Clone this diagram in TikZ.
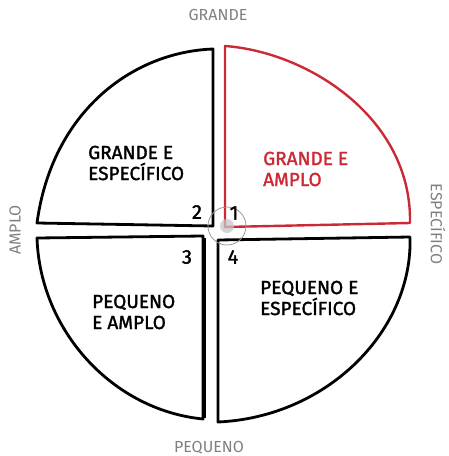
\documentclass[tikz,border=0pt]{standalone}
\usepackage{fontspec}
\setmainfont{Fira Sans}
\newfontfamily\handfont{Fira Sans}[FakeBold=1.6]
\definecolor{qred}{RGB}{204,41,54}
\definecolor{axisgray}{RGB}{128,128,128}
\begin{document}
\begin{tikzpicture}[x=1pt,y=-1pt,
  quad/.style={draw=black,line width=2.8pt,line join=round,line cap=round},
  redquad/.style={draw=qred,line width=2.4pt,line join=round,line cap=round},
  label/.style={font=\handfont\fontsize{19}{21}\selectfont,align=left,anchor=west,inner sep=0pt},
  axislabel/.style={font=\fontsize{16}{18}\selectfont,text=axisgray,inner sep=0pt},
  num/.style={font=\handfont\fontsize{20}{22}\selectfont,inner sep=0pt}]
\useasboundingbox (0,0) rectangle (448,456);
% quadrants
\draw[quad] (213,49) -- (213,226) -- (37,223) .. controls (52,112) and (132,52) .. cycle;
\draw[quad] (37,238) -- (203,236) -- (203,419) .. controls (112,410) and (40,330) .. cycle;
\draw[line width=1.3pt] (205,238) -- (205,418);
\draw[quad] (218,240) -- (410,237) .. controls (413,330) and (328,417) .. (218,422) -- cycle;
\draw[redquad] (225,46) -- (225,227) -- (410,223) .. controls (412,118) and (308,52) .. cycle;
% centre marker
\draw[draw=axisgray!80,line width=0.8pt] (227,226) circle[radius=19];
\fill[gray!45,opacity=0.75] (227,226) circle[radius=7];
% quadrant labels
\node[label] (tl) at (88,163) {GRANDE E\\ESPECÍFICO};
\node[label,text=qred] (tr) at (263,169) {GRANDE E\\AMPLO};
\node[label] (bl) at (92,312) {PEQUENO\\E AMPLO};
\node[label] (br) at (260,298) {PEQUENO E\\ESPECÍFICO};
% numbers
\node[num] (n2) at (197,212) {2};
\node[num] (n1) at (234,213) {1};
\node[num] (n3) at (187,257) {3};
\node[num] (n4) at (233,257) {4};
% axis labels
\node[axislabel] (grande) at (218,15) {GRANDE};
\node[axislabel] (pequeno) at (209,448) {PEQUENO};
\node[axislabel,rotate=90] (amplo) at (15,230) {AMPLO};
\node[axislabel,rotate=-90] (espec) at (438,224) {ESPECÍFICO};
\end{tikzpicture}
\end{document}
